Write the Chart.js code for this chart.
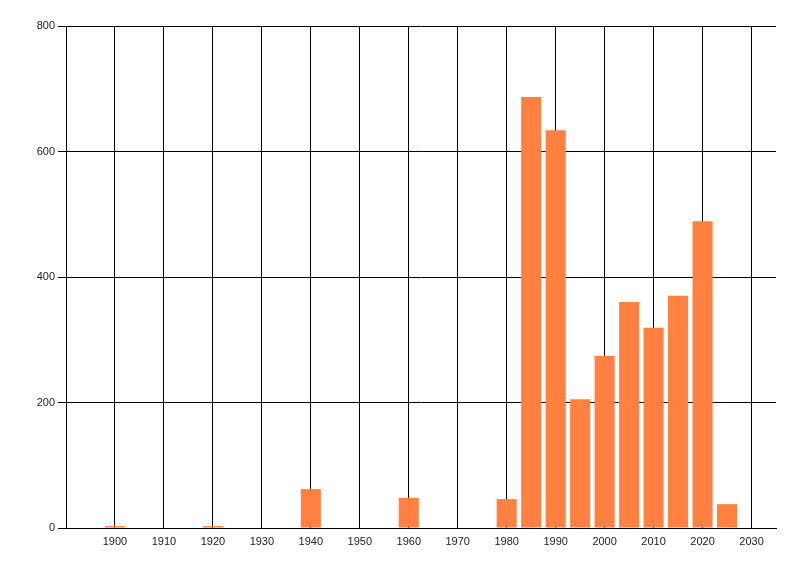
<!DOCTYPE html>
<html>
<head>
<meta charset="utf-8">
<script src="https://cdn.jsdelivr.net/npm/chart.js@4"></script>
<style>
  html, body { margin: 0; padding: 0; background: #fff; }
  #wrap { width: 800px; height: 576px; }
</style>
</head>
<body>
<div id="wrap"><canvas id="chart"></canvas></div>
<script>
const years = [1900, 1920, 1940, 1960, 1980, 1985, 1990, 1995, 2000, 2005, 2010, 2015, 2020, 2025];
const counts = [3, 3, 62, 48, 46, 687, 634, 205, 274, 360, 319, 370, 489, 38];
const xTicks = [1900, 1910, 1920, 1930, 1940, 1950, 1960, 1970, 1980, 1990, 2000, 2010, 2020, 2030];
const yTicks = [0, 200, 400, 600, 800];

document.addEventListener('DOMContentLoaded', () => {
    const ctx = document.getElementById('chart').getContext('2d');

    new Chart(ctx, {
        type: 'bar',
        data: {
            datasets: [{
                data: years.map((y, i) => ({ x: y, y: counts[i] })),
                backgroundColor: '#ff8040',
                borderWidth: 0,
                barPercentage: 0.82,
                categoryPercentage: 1
            }]
        },
        options: {
            responsive: true,
            maintainAspectRatio: false,
            animation: false,
            layout: { padding: { top: 26, right: 24, left: 0, bottom: 0 } },
            plugins: { legend: { display: false }, tooltip: { enabled: false } },
            scales: {
                x: {
                    type: 'linear',
                    min: 1890,
                    max: 2035,
                    offset: false,
                    afterBuildTicks: (scale) => { scale.ticks = xTicks.map(v => ({ value: v })); },
                    afterFit: (scale) => { scale.height = 48; },
                    grid: { color: '#000', lineWidth: 1, drawTicks: false, offset: false },
                    border: { color: '#000', width: 1 },
                    ticks: {
                        padding: 7,
                        color: '#222',
                        font: { family: 'Liberation Sans', size: 11 },
                        callback: (v) => String(v),
                        maxRotation: 0,
                        autoSkip: false
                    }
                },
                y: {
                    min: 0,
                    max: 800,
                    afterBuildTicks: (scale) => { scale.ticks = yTicks.map(v => ({ value: v })); },
                    afterFit: (scale) => { scale.width = 66; },
                    grid: { color: '#000', lineWidth: 1, tickLength: 8 },
                    border: { color: '#000', width: 1 },
                    ticks: {
                        padding: 3,
                        color: '#222',
                        font: { family: 'Liberation Sans', size: 11 },
                        callback: (v) => String(v)
                    }
                }
            }
        }
    });
});
</script>
</body>
</html>
